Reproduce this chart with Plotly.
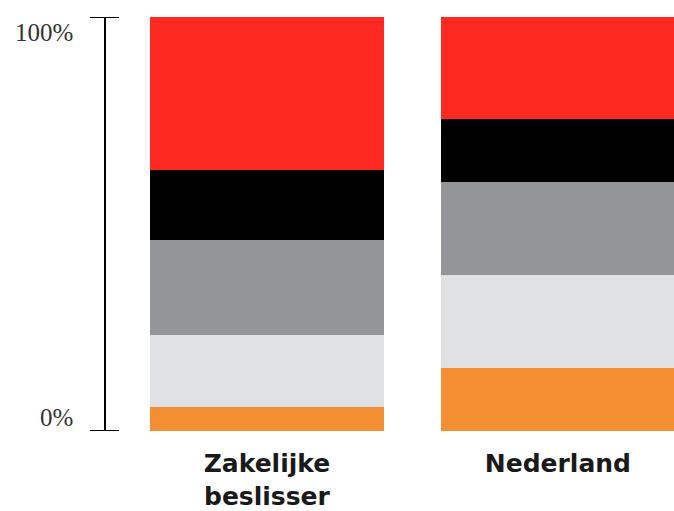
import plotly.graph_objects as go

categories = ["Zakelijke<br>beslisser", "Nederland"]
segment_names = ["Segment 1", "Segment 2", "Segment 3", "Segment 4", "Segment 5"]
# values bottom -> top (percent)
segment_values = [
    [5.8, 15.2],
    [17.5, 22.4],
    [22.9, 22.5],
    [16.9, 15.3],
    [36.9, 24.6],
]
segment_colors = ["#F38E32", "#E0E1E3", "#939598", "#000000", "#FE2A22"]
y_tick_vals = [0, 100]
y_tick_text = ["0%", "100%"]

W, H = 674, 511
L, R, T, B = 120, 0, 17, 78
fig = go.Figure()
for name, vals, col in zip(segment_names, segment_values, segment_colors):
    fig.add_trace(go.Bar(
        x=[0, 1], y=vals, name=name, width=0.804,
        marker=dict(color=col, line=dict(width=0)),
        showlegend=False, hoverinfo="y",
    ))

fig.update_layout(
    width=W, height=H, barmode="stack",
    margin=dict(l=L, r=R, t=T, b=B),
    paper_bgcolor="white", plot_bgcolor="white",
    xaxis=dict(
        range=[-0.505, 1.399], tickvals=[0, 1], ticktext=categories,
        showgrid=False, zeroline=False, showline=False, ticks="",
        tickfont=dict(family="DejaVu Sans", size=25, color="#1a1a1a", weight="bold"),
        ticklabelstandoff=15,
    ),
    yaxis=dict(range=[0, 100], visible=False),
)

plot_w = W - L - R
def px_to_paper_x(px):
    return (px - L) / plot_w

axis_x = px_to_paper_x(105)
cap0 = px_to_paper_x(90)
cap1 = px_to_paper_x(119)
line = dict(color="black", width=2)
fig.add_shape(type="line", xref="paper", yref="y", x0=axis_x, x1=axis_x, y0=0, y1=100, line=line)
fig.add_shape(type="line", xref="paper", yref="y", x0=cap0, x1=cap1, y0=0, y1=0, line=line)
fig.add_shape(type="line", xref="paper", yref="y", x0=cap0, x1=cap1, y0=100, y1=100, line=line)

for v, t in zip(y_tick_vals, y_tick_text):
    fig.add_annotation(
        xref="paper", yref="y", x=px_to_paper_x(75), y=v,
        text=t, showarrow=False, xanchor="right", yanchor="middle",
        yshift=-15 if v == 100 else 14,
        font=dict(family="Liberation Serif", size=25, color="#333333"),
    )

fig.write_html(
    "out.html",
    config={"displayModeBar": False},
    post_script="document.body.style.margin='0';document.body.style.overflow='hidden';",
)
